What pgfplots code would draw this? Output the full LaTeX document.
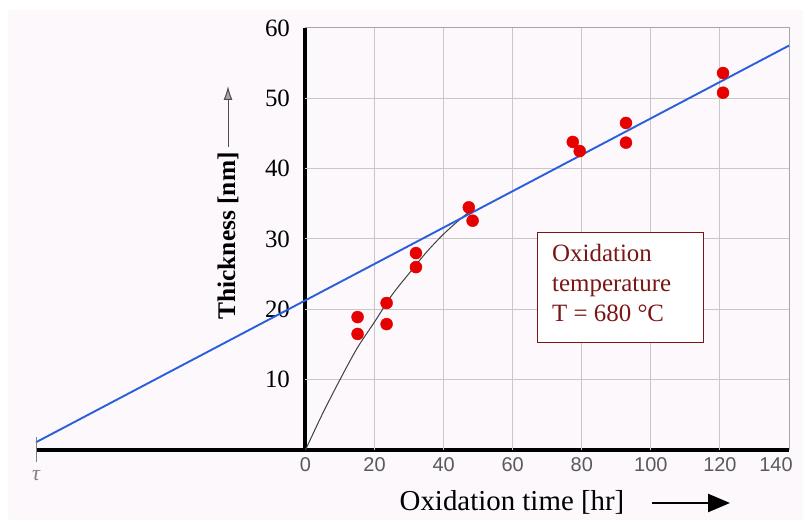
\documentclass[border=0pt]{standalone}
\usepackage{fontspec}
\setmainfont{Liberation Serif}
\newfontfamily\sansf{Liberation Sans}
\usepackage{pgfplots}
\pgfplotsset{compat=1.18}
\usetikzlibrary{arrows.meta}
\definecolor{bgc}{HTML}{FCF8FC}
\definecolor{gridc}{HTML}{C8C8C8}
\definecolor{fitblue}{HTML}{2A5FDC}
\definecolor{dotred}{HTML}{E60000}
\definecolor{boxred}{HTML}{7A1515}
\definecolor{xtc}{HTML}{5A5A5A}

\begin{document}
\begin{tikzpicture}
\useasboundingbox (0,0) rectangle (803bp,520bp);
\fill[bgc] (8bp,0) rectangle (803bp,510bp);
\begin{axis}[
    at={(36bp,70bp)}, anchor=south west,
    scale only axis, width=753bp, height=422bp,
    xmin=-78, xmax=140, ymin=0, ymax=60,
    axis x line=bottom, axis y line=middle,
    hide obscured x ticks=false, hide obscured y ticks=false,
    axis line style={-, black},
    x axis line style={line width=3.5bp},
    y axis line style={line width=4bp},
    xtick={0,20,...,140}, ytick={10,20,...,60},
    xticklabels={0,20,40,60,80,100,120,\hbox{140\kern26bp}},
    major tick length=0pt,
    xticklabel style={font=\sansf\fontsize{20}{20}\selectfont, text=xtc, yshift=-4bp},
    yticklabel style={font=\fontsize{25}{25}\selectfont, xshift=-12bp},
    /pgf/number format/assume math mode=true,
    clip=false,
]
% grid only in the positive quadrant
\pgfplotsinvokeforeach{20,40,...,120}{\draw[gridc, line width=1bp] (axis cs:#1,0) -- (axis cs:#1,60);}
\pgfplotsinvokeforeach{10,20,...,50}{\draw[gridc, line width=1bp] (axis cs:0,#1) -- (axis cs:140,#1);}
\draw[gray!70, line width=1bp] (axis cs:0,60) -- (axis cs:140,60) -- (axis cs:140,0);

% parabolic growth curve
\addplot[smooth, line width=1bp, color=black!75] coordinates {
    (0,0) (5,5.2) (10,10) (15,14.5) (20,18.2) (25,22) (30,25.1)
    (35,28.1) (40,30.7) (45,32.9) (47.5,33.9)
};
% linear fit, extrapolated to tau
\addplot[line width=1.9bp, color=fitblue] coordinates {(-78,1.1) (140,57.5)};
% measurements
\addplot[only marks, mark=*, mark size=6bp, color=dotred] coordinates {
    (15.1,18.9) (15.1,16.5)
    (23.5,20.9) (23.5,17.9)
    (32,28.0) (32,26.0)
    (47.3,34.5) (48.4,32.6)
    (77.4,43.8) (79.4,42.5)
    (92.8,46.5) (92.8,43.7)
    (120.9,53.6) (120.9,50.8)
};

\draw[gray, line width=1bp] (axis cs:-78,-1.7) -- (axis cs:-78,1.8);
\node[text=gray, font=\itshape\fontsize{22}{22}\selectfont] at (axis cs:-78,-3.6) {τ};
\end{axis}

% axis titles
\node[rotate=90, font=\bfseries\fontsize{25.5}{25.5}\selectfont] at (228bp,284bp) {Thickness [nm]};
\draw[-{Latex[length=14bp,width=9bp,fill=gray!70]}, black!70, line width=1bp] (228bp,373bp) -- (228bp,434bp);
\node[anchor=base, font=\fontsize{29}{29}\selectfont] at (512bp,10bp) {Oxidation time [hr]};
\draw[-{Triangle[length=22bp,width=18bp]}, line width=2.5bp] (652bp,17bp) -- (730bp,17bp);

% annotation box
\draw[boxred, line width=1bp, fill=white] (537bp,177bp) rectangle (703bp,287bp);
\begin{scope}[every node/.style={anchor=base west, text=boxred, inner sep=0pt, font=\fontsize{25}{25}\selectfont}]
\node at (552bp,258bp) {Oxidation};
\node at (552bp,228bp) {temperature};
\node at (552bp,198bp) {T = 680 °C};
\end{scope}
\end{tikzpicture}
\end{document}
